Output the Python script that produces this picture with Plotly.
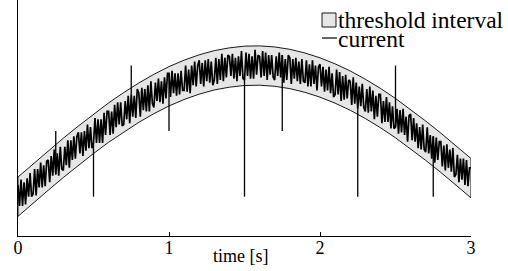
import numpy as np
import plotly.graph_objects as go

# threshold interval bounds, read every 0.1 s
band_t = [0.0, 0.1, 0.2, 0.3, 0.4, 0.5, 0.6, 0.7, 0.8, 0.9, 1.0, 1.1, 1.2, 1.3, 1.4, 1.5,
          1.6, 1.7, 1.8, 1.9, 2.0, 2.1, 2.2, 2.3, 2.4, 2.5, 2.6, 2.7, 2.8, 2.9, 3.0]
band_upper = [0.150, 0.250, 0.349, 0.446, 0.539, 0.629, 0.715, 0.794, 0.867, 0.933, 0.992,
              1.041, 1.082, 1.114, 1.135, 1.148, 1.150, 1.142, 1.124, 1.096, 1.059, 1.013,
              0.959, 0.896, 0.826, 0.749, 0.666, 0.577, 0.485, 0.389, 0.291]
band_lower = [-0.150, -0.050, 0.049, 0.146, 0.239, 0.329, 0.415, 0.494, 0.567, 0.633, 0.692,
              0.741, 0.782, 0.814, 0.835, 0.848, 0.850, 0.842, 0.824, 0.796, 0.759, 0.713,
              0.659, 0.596, 0.526, 0.449, 0.366, 0.277, 0.185, 0.089, -0.009]

# noisy current samples, every 0.01 s from 0 to 3 s
current = [
    0.09, -0.07, 0.13, -0.07, 0.11, -0.06, 0.14, 0.00, 0.18, 0.00,
    0.02, 0.21, 0.01, 0.21, 0.07, 0.26, 0.07, 0.24, 0.08, 0.27,
    0.28, 0.11, 0.31, 0.16, 0.36, 0.17, 0.33, 0.16, 0.38, 0.21,
    0.20, 0.38, 0.24, 0.43, 0.22, 0.43, 0.28, 0.46, 0.29, 0.46,
    0.49, 0.33, 0.49, 0.31, 0.50, 0.35, 0.55, 0.37, 0.53, 0.37,
    0.41, 0.60, 0.41, 0.59, 0.41, 0.59, 0.41, 0.64, 0.47, 0.65,
    0.65, 0.47, 0.65, 0.48, 0.70, 0.53, 0.72, 0.55, 0.72, 0.54,
    0.55, 0.73, 0.59, 0.77, 0.56, 0.78, 0.61, 0.77, 0.60, 0.82,
    0.79, 0.61, 0.83, 0.66, 0.82, 0.65, 0.85, 0.65, 0.88, 0.71,
    0.68, 0.87, 0.73, 0.90, 0.72, 0.88, 0.71, 0.91, 0.75, 0.94,
    0.94, 0.76, 0.96, 0.79, 0.94, 0.77, 0.94, 0.78, 0.96, 0.81,
    0.81, 1.00, 0.80, 0.97, 0.79, 1.00, 0.85, 1.03, 0.84, 1.00,
    1.04, 0.86, 1.02, 0.84, 1.04, 0.88, 1.05, 0.87, 1.03, 0.85,
    0.89, 1.06, 0.86, 1.05, 0.89, 1.09, 0.88, 1.06, 0.91, 1.08,
    1.07, 0.92, 1.09, 0.90, 1.06, 0.88, 1.07, 0.92, 1.11, 0.90,
    0.89, 1.10, 0.92, 1.09, 0.90, 1.07, 0.90, 1.12, 0.93, 1.08,
    1.07, 0.91, 1.11, 0.92, 1.10, 0.89, 1.08, 0.93, 1.08, 0.91,
    0.89, 1.07, 0.92, 1.10, 0.91, 1.08, 0.87, 1.05, 0.89, 1.08,
    1.06, 0.86, 1.05, 0.90, 1.06, 0.88, 1.03, 0.86, 1.05, 0.88,
    0.87, 1.04, 0.84, 1.01, 0.84, 1.04, 0.86, 1.00, 0.81, 0.99,
    1.01, 0.84, 0.99, 0.80, 0.97, 0.81, 0.99, 0.79, 0.94, 0.76,
    0.78, 0.97, 0.78, 0.95, 0.73, 0.92, 0.74, 0.93, 0.75, 0.89,
    0.88, 0.70, 0.91, 0.71, 0.87, 0.67, 0.84, 0.69, 0.86, 0.68,
    0.65, 0.82, 0.64, 0.84, 0.65, 0.81, 0.59, 0.77, 0.61, 0.78,
    0.78, 0.56, 0.73, 0.57, 0.76, 0.57, 0.72, 0.52, 0.69, 0.52,
    0.53, 0.67, 0.48, 0.66, 0.49, 0.67, 0.47, 0.61, 0.42, 0.62,
    0.63, 0.43, 0.60, 0.42, 0.56, 0.37, 0.53, 0.36, 0.55, 0.36,
    0.34, 0.53, 0.33, 0.47, 0.29, 0.46, 0.26, 0.45, 0.28, 0.42,
    0.42, 0.23, 0.39, 0.20, 0.40, 0.22, 0.36, 0.19, 0.37, 0.15,
    0.17, 0.32, 0.11, 0.29, 0.13, 0.29, 0.09, 0.28, 0.08, 0.22,
    0.22,
]
current_t = np.round(np.arange(len(current)) * 0.01, 2)

# current spikes (time, value reached)
spike_t = [0.25, 0.50, 0.75, 1.00, 1.50, 1.75, 2.25, 2.50, 2.75]
spike_v = [0.50, 0.00, 1.00, 0.50, 0.00, 0.50, 0.00, 1.00, 0.00]

x_ticks = [0, 1, 2, 3]
x_title = "time [s]"
legend_labels = ["threshold interval", "current"]

FONT = "Liberation Serif, Times New Roman, Times, DejaVu Serif, serif"
W, H = 508, 271
L, R, T, B = 18, 37, 0, 35
PW, PH = W - L - R, H - T - B


def px_x(p):
    return (p - L) / PW


def px_y(p):
    return (H - B - p) / PH


# spikes as vertical segments from the trace to the spike level
sx, sy = [], []
for t, v in zip(spike_t, spike_v):
    i = int(round(t * 100))
    sx += [t, t, None]
    sy += [current[i], v, None]

fig = go.Figure()
poly_x = list(band_t) + list(band_t[::-1]) + [band_t[0]]
poly_y = list(band_upper) + list(band_lower[::-1]) + [band_upper[0]]
fig.add_trace(go.Scatter(x=poly_x, y=poly_y, fill="toself", fillcolor="#e6e6e6",
                         line=dict(color="black", width=0.9), mode="lines",
                         hoverinfo="skip", showlegend=False))
fig.add_trace(go.Scatter(x=current_t, y=current, mode="lines",
                         line=dict(color="black", width=1.7),
                         showlegend=False))
fig.add_trace(go.Scatter(x=sx, y=sy, mode="lines",
                         line=dict(color="black", width=1.3),
                         showlegend=False, hoverinfo="skip"))

fig.update_layout(
    width=W, height=H,
    margin=dict(l=L, r=R, t=T, b=B, pad=0),
    paper_bgcolor="white", plot_bgcolor="white",
    font=dict(family=FONT, size=18, color="black"),
    showlegend=False,
)
fig.update_xaxes(range=[0, 3], tickvals=x_ticks, ticktext=[str(v) for v in x_ticks],
                 ticks="inside", ticklen=4, tickcolor="black", tickwidth=1,
                 showline=True, linecolor="black", linewidth=1,
                 showgrid=False, zeroline=False, ticklabelstandoff=-5,
                 tickfont=dict(family=FONT, size=18, color="black"))
fig.update_yaxes(range=[-0.3, 1.5], showticklabels=False, ticks="",
                 showline=True, linecolor="black", linewidth=1,
                 showgrid=False, zeroline=False)

# axis title
fig.add_annotation(text=x_title, xref="paper", yref="paper",
                   x=px_x(241), y=px_y(256), xanchor="center", yanchor="middle",
                   showarrow=False, font=dict(family=FONT, size=18, color="black"))

# legend drawn by hand
fig.add_shape(type="rect", xref="paper", yref="paper",
              x0=px_x(322), x1=px_x(336), y0=px_y(27), y1=px_y(13),
              fillcolor="#e6e6e6", line=dict(color="black", width=0.9))
fig.add_shape(type="line", xref="paper", yref="paper",
              x0=px_x(322), x1=px_x(337), y0=px_y(38), y1=px_y(38),
              line=dict(color="black", width=1.2))
fig.add_annotation(text=legend_labels[0], xref="paper", yref="paper",
                   x=px_x(337), y=px_y(20.5), xanchor="left", yanchor="middle",
                   showarrow=False, borderpad=0,
                   font=dict(family=FONT, size=23.5, color="black"))
fig.add_annotation(text=legend_labels[1], xref="paper", yref="paper",
                   x=px_x(337), y=px_y(38.5), xanchor="left", yanchor="middle",
                   showarrow=False, borderpad=0,
                   font=dict(family=FONT, size=23.5, color="black"))

fig.write_html("out.html", config={"displayModeBar": False},
               post_script="document.body.style.margin='0';document.body.style.overflow='hidden';")
